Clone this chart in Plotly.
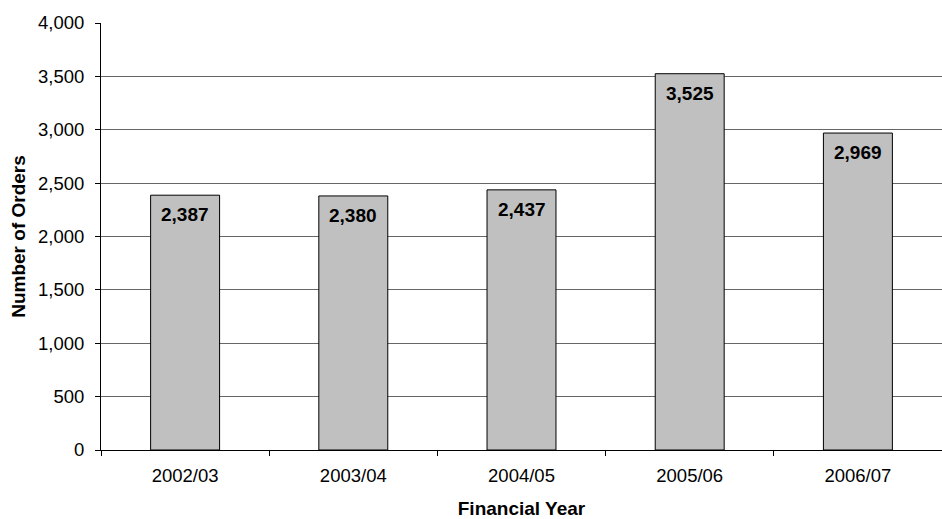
import plotly.graph_objects as go

years = ["2002/03", "2003/04", "2004/05", "2005/06", "2006/07"]
orders = [2387, 2380, 2437, 3525, 2969]
labels = [f"{v:,}" for v in orders]

FONT = "Liberation Sans, Arial, sans-serif"
FS = 18.5

fig = go.Figure()
fig.add_trace(go.Bar(
    x=years, y=orders, width=0.41,
    marker=dict(color="#C0C0C0", line=dict(color="#000000", width=1)),
    hoverinfo="skip",
))

for x, y, t in zip(years, orders, labels):
    fig.add_annotation(x=x, y=y, text=f"<b>{t}</b>", showarrow=False,
                       yanchor="top", yshift=-7,
                       font=dict(family=FONT, size=19, color="#000000"))

fig.update_layout(
    width=942, height=519,
    margin=dict(l=101, r=0, t=23, b=69, autoexpand=False),
    plot_bgcolor="#FFFFFF", paper_bgcolor="#FFFFFF",
    showlegend=False,
    font=dict(family=FONT, size=FS, color="#000000"),
)
fig.update_xaxes(
    showline=True, linecolor="#000000", linewidth=1,
    ticks="outside", ticklen=5, tickcolor="#000000", tickson="boundaries",
    ticklabelstandoff=9,
    showgrid=False,
    tickfont=dict(family=FONT, size=FS),
    title=dict(text="<b>Financial Year</b>", font=dict(family=FONT, size=19), standoff=16),
)
fig.update_yaxes(
    range=[0, 4000], dtick=500, tickformat=",d",
    showline=True, linecolor="#000000", linewidth=1,
    ticks="outside", ticklen=5, tickcolor="#000000",
    ticklabelstandoff=7,
    showgrid=True, gridcolor="#666666", gridwidth=1,
    zeroline=False,
    tickfont=dict(family=FONT, size=FS),
    title=dict(text="<b>Number of Orders</b>", font=dict(family=FONT, size=19), standoff=7),
)

fig.write_html("out.html")
